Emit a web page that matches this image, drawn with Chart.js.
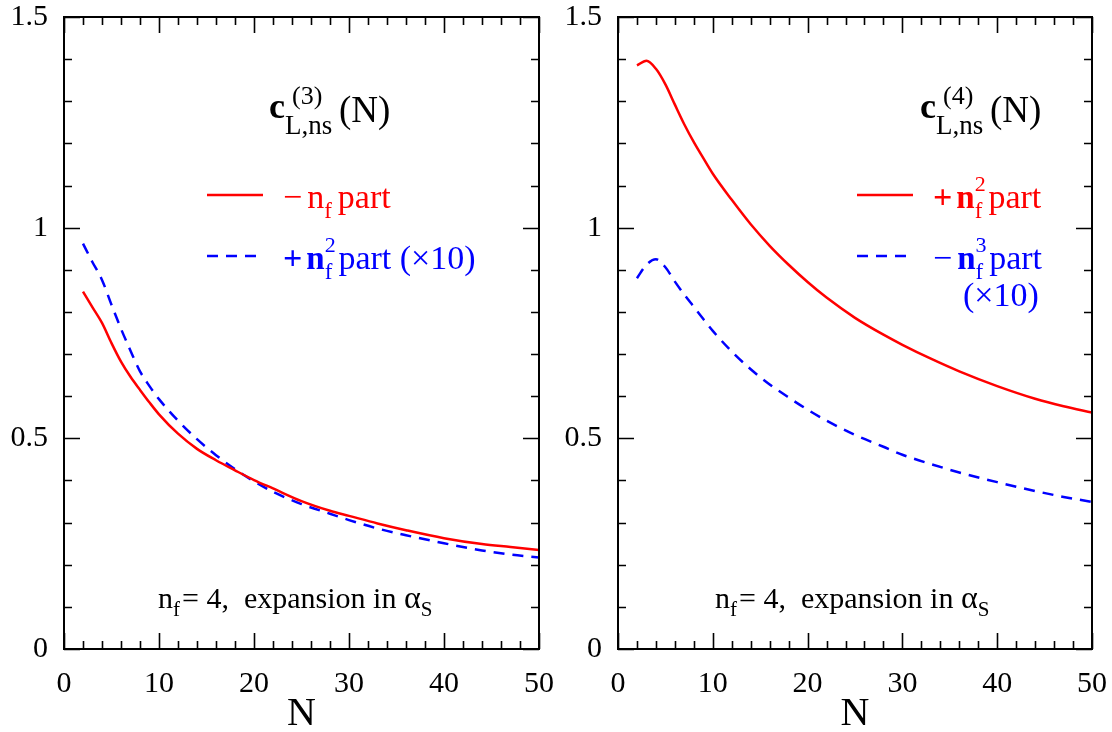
<!DOCTYPE html>
<html>
<head>
<meta charset="utf-8">
<script src="https://cdn.jsdelivr.net/npm/chart.js@4.4.1/dist/chart.umd.min.js"></script>
<style>
  html, body { margin: 0; padding: 0; background: #fff; overflow: hidden; }
  .panel { position: absolute; top: 0; width: 556px; height: 732px; }
  #leftBox { left: 0; }
  #rightBox { left: 556px; }
</style>
</head>
<body>
<div class="panel" id="leftBox"><canvas id="leftChart"></canvas></div>
<div class="panel" id="rightBox"><canvas id="rightChart"></canvas></div>
<script>
// Mellin moment N (shared by all curves)
const N = [2, 3, 4, 5, 6, 7, 8, 9, 10, 12, 14, 16, 18, 20, 22, 25, 28, 30, 33, 36, 40, 44, 47, 50];

// c_L,ns^(3)(N): -nf part, and +nf^2 part (x10)
const c3_nf  = [0.848, 0.811, 0.774, 0.726, 0.682, 0.646, 0.615, 0.585, 0.557, 0.511, 0.475, 0.448, 0.424, 0.401, 0.381, 0.351, 0.328, 0.316, 0.298, 0.282, 0.263, 0.249, 0.242, 0.235];
const c3_nf2 = [0.962, 0.918, 0.876, 0.817, 0.760, 0.708, 0.659, 0.624, 0.593, 0.542, 0.498, 0.460, 0.427, 0.398, 0.373, 0.344, 0.321, 0.306, 0.286, 0.270, 0.251, 0.234, 0.224, 0.217];

// c_L,ns^(4)(N): +nf^2 part, and -nf^3 part (x10)
const c4_nf2 = [1.385, 1.396, 1.377, 1.340, 1.292, 1.245, 1.203, 1.165, 1.128, 1.066, 1.008, 0.957, 0.912, 0.871, 0.834, 0.786, 0.746, 0.722, 0.689, 0.659, 0.624, 0.594, 0.576, 0.561];
const c4_nf3 = [0.880, 0.912, 0.925, 0.906, 0.872, 0.841, 0.812, 0.783, 0.755, 0.706, 0.664, 0.628, 0.597, 0.568, 0.542, 0.508, 0.480, 0.461, 0.439, 0.419, 0.396, 0.375, 0.361, 0.349];

const xTicks = [0, 10, 20, 30, 40, 50];
const yTicks = [0, 0.5, 1, 1.5];

const RED = '#ff0000';
const BLUE = '#0000ff';
const SERIF = '"Liberation Serif", "DejaVu Serif", serif';

function pts(ys) {
  return N.map((n, i) => ({ x: n, y: ys[i] }));
}

// box around the plot plus inward ticks on all four sides
const framePlugin = {
  id: 'frame',
  afterDraw(chart) {
    const ctx = chart.ctx;
    const a = chart.chartArea;
    const xs = chart.scales.x;
    const ys = chart.scales.y;
    ctx.save();
    ctx.strokeStyle = '#000';
    ctx.lineWidth = 2;
    ctx.strokeRect(a.left, a.top, a.right - a.left, a.bottom - a.top);
    ctx.lineWidth = 1.6;
    ctx.beginPath();
    for (let v = 0; v <= 50; v += 2) {
      const px = Math.round(xs.getPixelForValue(v)) + 0.5;
      const len = v % 10 === 0 ? 16 : 8;
      ctx.moveTo(px, a.bottom); ctx.lineTo(px, a.bottom - len);
      ctx.moveTo(px, a.top); ctx.lineTo(px, a.top + len);
    }
    for (let k = 0; k <= 15; k++) {
      const py = Math.round(ys.getPixelForValue(k / 10)) + 0.5;
      const len = k % 5 === 0 ? 16 : 8;
      ctx.moveTo(a.left, py); ctx.lineTo(a.left + len, py);
      ctx.moveTo(a.right, py); ctx.lineTo(a.right - len, py);
    }
    ctx.stroke();
    ctx.restore();
  }
};

// draw a run of text pieces left to right
function drawRun(ctx, x, y, parts, color) {
  ctx.fillStyle = color;
  ctx.textBaseline = 'alphabetic';
  ctx.textAlign = 'left';
  parts.forEach(p => {
    ctx.font = (p.bold ? 'bold ' : '') + p.size + 'px ' + SERIF;
    const px = p.x !== undefined ? p.x : x;
    ctx.fillText(p.t, px, y + (p.dy || 0));
    if (!p.stay) x = px + ctx.measureText(p.t).width + (p.gap || 0);
  });
  return x;
}

function legendLine(ctx, x0, x1, y, color, dashed) {
  ctx.save();
  ctx.strokeStyle = color;
  ctx.lineWidth = 2.5;
  if (dashed) ctx.setLineDash([11, 8]);
  ctx.beginPath();
  ctx.moveTo(x0, y); ctx.lineTo(x1, y);
  ctx.stroke();
  ctx.restore();
}

function titlePieces(ctx, x, sup) {
  drawRun(ctx, x, 118, [{ t: 'c', size: 36, bold: true }], '#000');
  drawRun(ctx, x + 16, 134, [{ t: 'L,ns', size: 27 }], '#000');
  drawRun(ctx, x + 23, 104, [{ t: sup, size: 26 }], '#000');
  drawRun(ctx, x + 70, 122, [{ t: '(N)', size: 37 }], '#000');
}

function bottomNote(ctx, x) {
  drawRun(ctx, x, 608, [
    { t: 'n', size: 30 },
    { t: 'f', size: 21, dy: 8, gap: 2 },
    { t: '= 4,  expansion in ', size: 30 },
    { t: '\u03b1', size: 32 },
    { t: 'S', size: 21, dy: 8 }
  ], '#000');
}

const leftNotes = {
  id: 'leftNotes',
  afterDraw(chart) {
    const ctx = chart.ctx;
    ctx.save();
    titlePieces(ctx, 269, '(3)');
    legendLine(ctx, 207, 263, 195, RED, false);
    drawRun(ctx, 283, 208, [
      { t: '\u2212', size: 34, gap: 5 },
      { t: 'n', size: 34 },
      { t: 'f', size: 23, dy: 10, gap: 6 },
      { t: 'part', size: 34 }
    ], RED);
    legendLine(ctx, 207, 263, 256, BLUE, true);
    drawRun(ctx, 283, 269, [
      { t: '+', size: 34, bold: true, gap: 4 },
      { t: 'n', size: 33, bold: true },
      { t: '2', size: 22, dy: -17, stay: true },
      { t: 'f', size: 23, dy: 10, gap: 6 },
      { t: 'part (\u00d710)', size: 34 }
    ], BLUE);
    bottomNote(ctx, 158);
    ctx.restore();
  }
};

const rightNotes = {
  id: 'rightNotes',
  afterDraw(chart) {
    const ctx = chart.ctx;
    const o = -556;
    ctx.save();
    titlePieces(ctx, 920 + o, '(4)');
    legendLine(ctx, 857 + o, 913 + o, 195, RED, false);
    drawRun(ctx, 933 + o, 208, [
      { t: '+', size: 34, bold: true, gap: 4 },
      { t: 'n', size: 33, bold: true },
      { t: '2', size: 22, dy: -17, stay: true },
      { t: 'f', size: 23, dy: 10, gap: 6 },
      { t: 'part', size: 34 }
    ], RED);
    legendLine(ctx, 857 + o, 913 + o, 256, BLUE, true);
    drawRun(ctx, 933 + o, 269, [
      { t: '\u2212', size: 34, gap: 5 },
      { t: 'n', size: 33, bold: true },
      { t: '3', size: 22, dy: -17, stay: true },
      { t: 'f', size: 23, dy: 10, gap: 6 },
      { t: 'part', size: 34 }
    ], BLUE);
    drawRun(ctx, 963 + o, 306, [{ t: '(\u00d710)', size: 34 }], BLUE);
    bottomNote(ctx, 715 + o);
    ctx.restore();
  }
};

function makeOptions(yWidth, padRight) {
  return {
    responsive: true,
    maintainAspectRatio: false,
    animation: false,
    layout: { padding: { top: 17, right: padRight, left: 0, bottom: 0 } },
    plugins: { legend: { display: false }, tooltip: { enabled: false } },
    elements: { point: { radius: 0 } },
    scales: {
      x: {
        type: 'linear',
        min: 0, max: 50,
        afterBuildTicks: s => { s.ticks = xTicks.map(v => ({ value: v })); },
        afterFit: s => { s.height = 83; s.paddingLeft = 0; s.paddingRight = 0; },
        grid: { display: false, drawTicks: false },
        border: { display: false },
        ticks: { color: '#000', font: { family: SERIF, size: 30 }, padding: 17, maxRotation: 0 },
        title: { display: true, text: 'N', color: '#000', font: { family: SERIF, size: 40 }, padding: { top: 0, bottom: -6 } }
      },
      y: {
        type: 'linear',
        min: 0, max: 1.5,
        afterBuildTicks: s => { s.ticks = yTicks.map(v => ({ value: v })); },
        afterFit: s => { s.width = yWidth; s.paddingTop = 0; s.paddingBottom = 0; },
        grid: { display: false, drawTicks: false },
        border: { display: false },
        ticks: { color: '#000', font: { family: SERIF, size: 30 }, padding: 16, callback: v => String(v) }
      }
    }
  };
}

function series(ys, color, dashed) {
  return {
    data: pts(ys),
    borderColor: color,
    borderWidth: 2.5,
    borderDash: dashed ? [11, 8] : [],
    cubicInterpolationMode: 'monotone',
    fill: false
  };
}

new Chart(document.getElementById('leftChart'), {
  type: 'line',
  data: { datasets: [series(c3_nf, RED, false), series(c3_nf2, BLUE, true)] },
  options: makeOptions(64, 17),
  plugins: [framePlugin, leftNotes]
});

new Chart(document.getElementById('rightChart'), {
  type: 'line',
  data: { datasets: [series(c4_nf2, RED, false), series(c4_nf3, BLUE, true)] },
  options: makeOptions(62, 20),
  plugins: [framePlugin, rightNotes]
});
</script>
</body>
</html>
